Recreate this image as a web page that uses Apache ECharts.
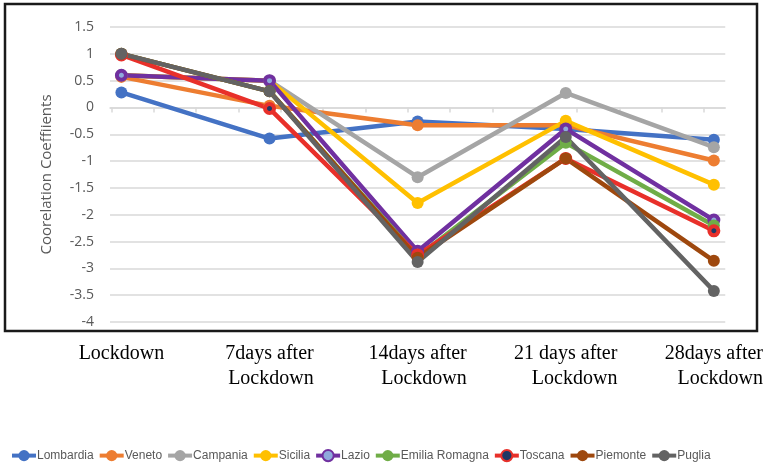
<!DOCTYPE html>
<html>
<head>
<meta charset="utf-8">
<script src="https://cdn.jsdelivr.net/npm/echarts@6/dist/echarts.min.js"></script>
<style>
  html, body { margin: 0; padding: 0; background: #fff; }
  #chart { width: 766px; height: 468px; }
</style>
</head>
<body>
<div id="chart"></div>
<script>
// Time points after the lockdown
const categories = ['Lockdown', '7days after\nLockdown', '14days after\nLockdown', '21 days after\nLockdown', '28days after\nLockdown'];

// Correlation coefficients per region
const lombardia = [0.28, -0.58, -0.26, -0.40, -0.60];
const veneto    = [0.57, 0.03, -0.33, -0.33, -0.99];
const campania  = [0.60, 0.50, -1.30, 0.27, -0.74];
const sicilia   = [0.60, 0.50, -1.78, -0.25, -1.44];
const lazio     = [0.60, 0.50, -2.68, -0.40, -2.10];
const emilia    = [1.00, 0.30, -2.78, -0.66, -2.20];
const toscana   = [0.98, -0.02, -2.75, -0.95, -2.30];
const piemonte  = [1.00, 0.30, -2.80, -0.95, -2.86];
const puglia    = [1.00, 0.30, -2.88, -0.55, -3.42];

const yTicks = { min: -4, max: 1.5, step: 0.5 };

const regions = [
  { name: 'Lombardia', values: lombardia, color: '#4472C4' },
  { name: 'Veneto', values: veneto, color: '#ED7D31' },
  { name: 'Campania', values: campania, color: '#A5A5A5' },
  { name: 'Sicilia', values: sicilia, color: '#FFC000' },
  { name: 'Lazio', values: lazio, color: '#7030A0', fill: '#8FAADC' },
  { name: 'Emilia Romagna', values: emilia, color: '#70AD47' },
  { name: 'Toscana', values: toscana, color: '#E8302A', fill: '#1F3864' },
  { name: 'Piemonte', values: piemonte, color: '#9E480E' },
  { name: 'Puglia', values: puglia, color: '#636363' }
];

const xPad = 0.077;
const catIdx = categories.map((c, i) => i);
// minor tick marks along the zero line
const zeroTicks = Array.from({ length: 15 }, (_, k) => -0.067 + k * 2 / 7);

const chart = echarts.init(document.getElementById('chart'), null, { renderer: 'canvas' });

chart.setOption({
  animation: false,
  backgroundColor: '#fff',
  grid: { left: 110, right: 36, top: 27, bottom: 146, containLabel: false },
  graphic: [{
    type: 'rect',
    shape: { x: 5, y: 4, width: 752, height: 327 },
    style: { fill: 'none', stroke: '#1a1a1a', lineWidth: 2.5 },
    z: 100
  }],
  legend: {
    left: 5,
    top: 444,
    itemWidth: 24,
    itemHeight: 14,
    itemGap: 4,
    lineStyle: { width: 4 },
    textStyle: {
      fontFamily: "'Liberation Sans', Arial, sans-serif",
      fontSize: 12,
      color: '#595959',
      padding: [0, 0, 0, -4]
    },
    data: regions.map(r => r.name)
  },
  xAxis: [{
    type: 'value',
    position: 'bottom',
    min: -xPad,
    max: categories.length - 1 + xPad,
    axisLine: { show: false, onZero: false },
    axisTick: { show: false },
    splitLine: { show: false },
    axisLabel: {
      customValues: catIdx,
      margin: 19,
      formatter: v => {
        const lines = categories[Math.round(v)].split('\n');
        return lines.map(l => '{t|' + l + '}').join('\n');
      },
      rich: {
        t: {
          fontFamily: "'Liberation Serif', 'Times New Roman', serif",
          fontSize: 20,
          lineHeight: 25,
          color: '#000',
          align: 'right'
        }
      }
    }
  }, {
    type: 'value',
    position: 'top',
    min: -xPad,
    max: categories.length - 1 + xPad,
    axisLine: { show: true, onZero: true, lineStyle: { color: '#D9D9D9', width: 1.5 } },
    axisTick: { show: true, inside: true, length: 5, customValues: zeroTicks, lineStyle: { color: '#D9D9D9', width: 1.5 } },
    axisLabel: { show: false },
    splitLine: { show: false }
  }],
  yAxis: {
    type: 'value',
    min: yTicks.min,
    max: yTicks.max,
    interval: yTicks.step,
    name: 'Coorelation Coeffiients',
    nameLocation: 'middle',
    nameGap: 56,
    nameTextStyle: { fontFamily: "'Open Sans', sans-serif", fontSize: 15, color: '#595959' },
    axisLine: { show: false },
    axisTick: { show: false },
    axisLabel: { margin: 16, fontFamily: "'Open Sans', sans-serif", fontSize: 14, color: '#595959' },
    splitLine: { lineStyle: { color: '#D9D9D9', width: 1.5 } }
  },
  series: regions.map(r => ({
    name: r.name,
    type: 'line',
    xAxisIndex: 0,
    data: r.values.map((v, i) => [i, v]),
    symbol: 'circle',
    symbolSize: r.fill ? 9 : 12,
    lineStyle: { color: r.color, width: 4.5 },
    itemStyle: r.fill
      ? { color: r.fill, borderColor: r.color, borderWidth: 4 }
      : { color: r.color },
    emphasis: { disabled: true }
  }))
});
</script>
</body>
</html>
